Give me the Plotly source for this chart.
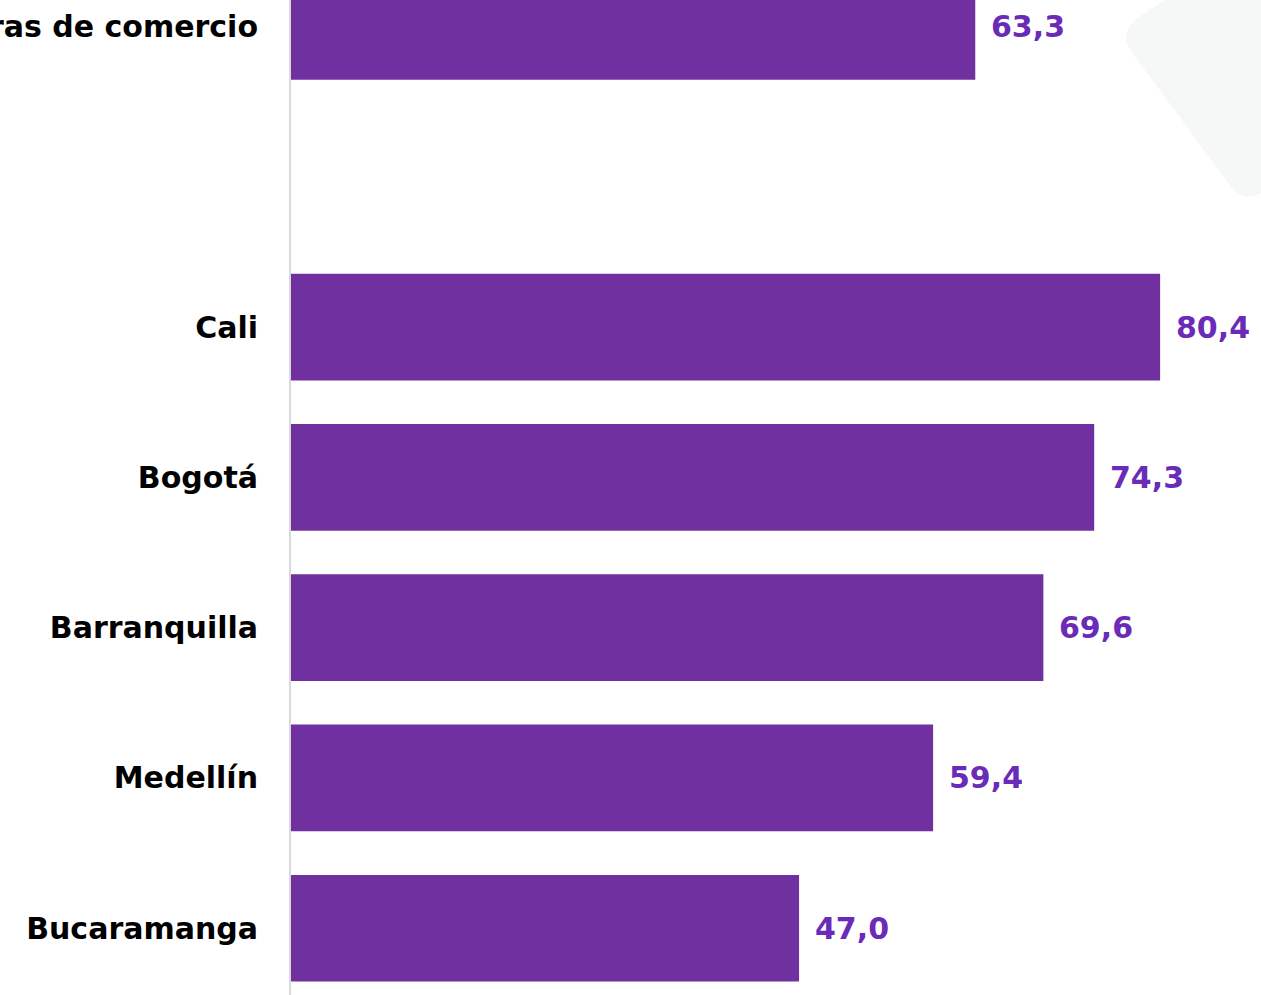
import plotly.graph_objects as go

categories = ["Cámaras de comercio", " ", "Cali", "Bogotá", "Barranquilla", "Medellín", "Bucaramanga"]
values = [63.3, None, 80.4, 74.3, 69.6, 59.4, 47.0]

W, H = 1261, 995
L = 291
BAR = "#7030a0"
LAB = "#6a2bb8"
FONT = "DejaVu Sans"

fig = go.Figure()
fig.add_trace(go.Bar(
    y=categories, x=values, orientation="h",
    marker=dict(color=BAR, line=dict(width=0)),
    width=0.71, hoverinfo="skip",
))

for c, v in zip(categories, values):
    if v is None:
        continue
    fig.add_annotation(
        x=v, y=c, xref="x", yref="y",
        text="<b>" + f"{v:.1f}".replace(".", ",") + "</b>",
        showarrow=False, xanchor="left", yanchor="middle", xshift=14,
        font=dict(family=FONT, size=30, color=LAB),
    )

# decorative background shape (top right)
def px(x, y):
    return f"{(x - L) / (W - L):.5f},{1 - y / H:.5f}"

path = ("M " + px(1135, 20) + " L " + px(1230, -45) +
        " L " + px(1330, 100) + " L " + px(1265, 190) +
        " Q " + px(1245, 205) + " " + px(1230, 185) +
        " L " + px(1130, 50) + " Q " + px(1120, 35) + " " + px(1135, 20) + " Z")
fig.add_shape(type="path", path=path, xref="paper", yref="paper",
              fillcolor="#f6f7f7", line=dict(width=0), layer="below")

fig.update_layout(
    width=W, height=H,
    margin=dict(l=L, r=0, t=0, b=0, autoexpand=False),
    paper_bgcolor="white", plot_bgcolor="rgba(0,0,0,0)",
    showlegend=False,
    xaxis=dict(range=[0, (W - L) / 10.81], visible=False, fixedrange=True),
    yaxis=dict(
        type="category", categoryorder="array", categoryarray=categories,
        range=[6.444, -0.176], automargin=False, fixedrange=True,
        showline=True, linecolor="#d9d9d9", linewidth=2,
        showgrid=False, zeroline=False, ticks="",
        ticklabelstandoff=25,
        tickfont=dict(family=FONT, size=30, color="#000000", weight="bold"),
    ),
)

fig.write_html("out.html", config={"displayModeBar": False},
               post_script="document.body.style.margin='0px';document.body.style.overflow='hidden';")
